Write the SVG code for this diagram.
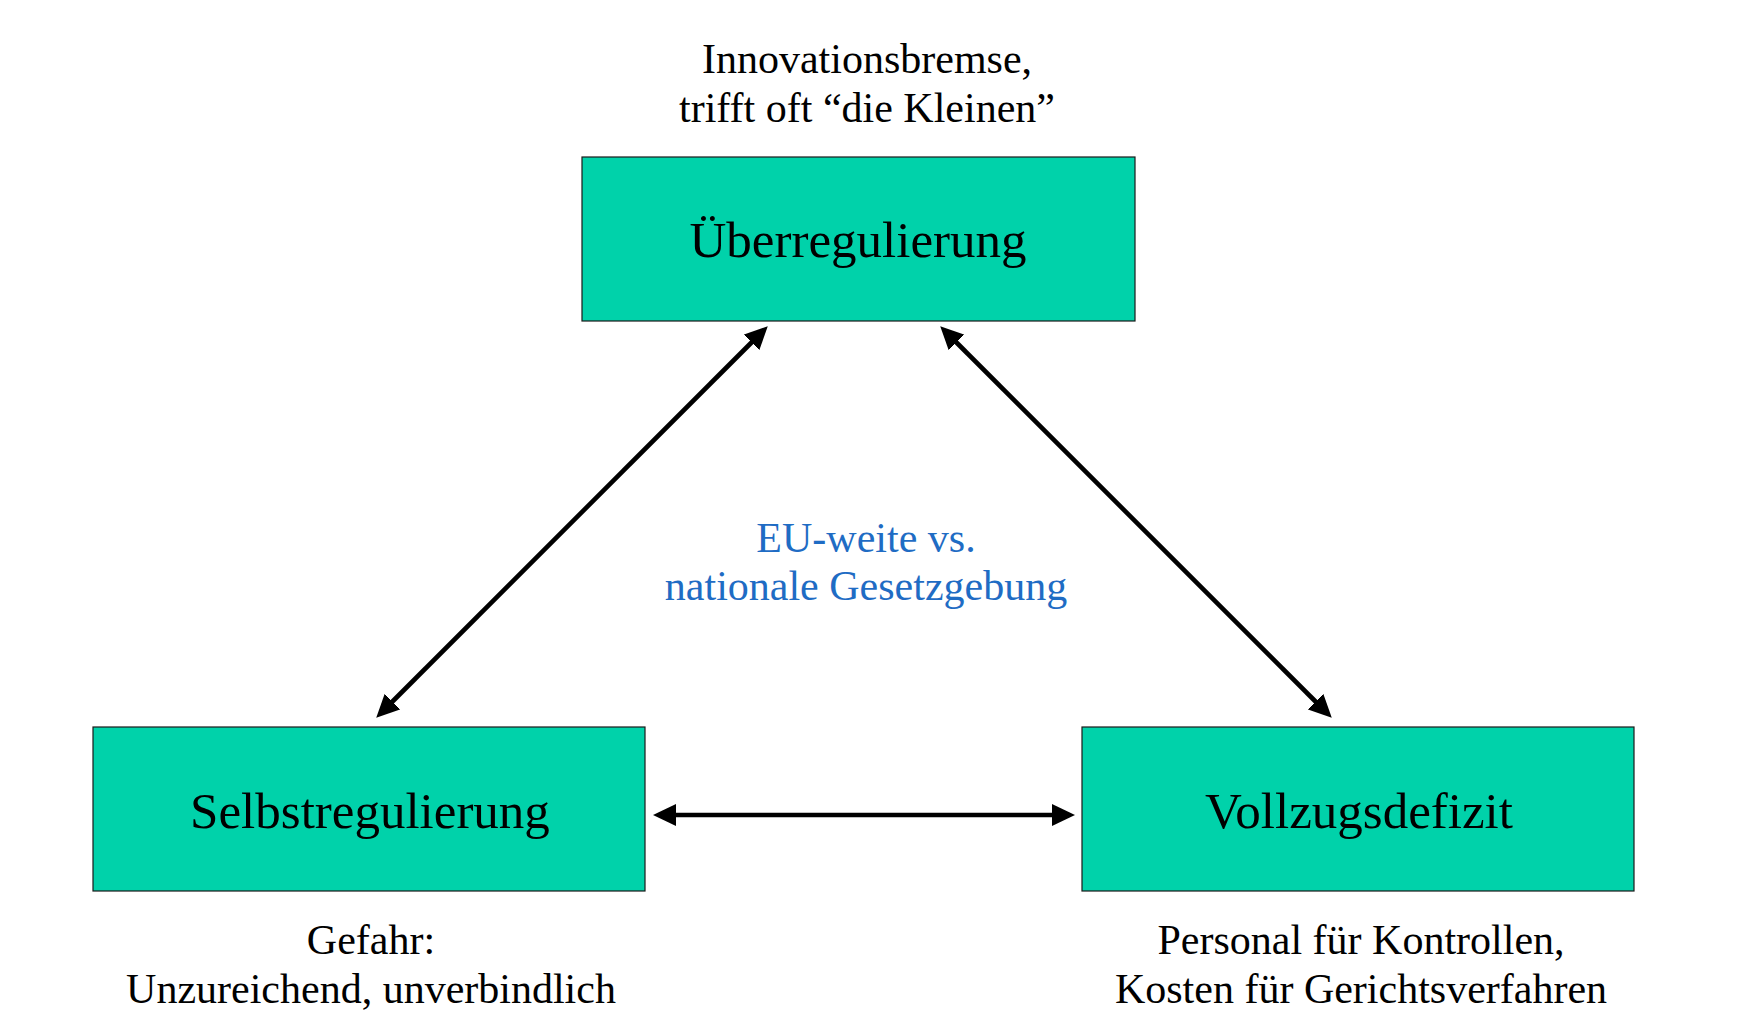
<svg xmlns="http://www.w3.org/2000/svg" width="1756" height="1034" viewBox="0 0 1756 1034">
<style>
.box{fill:#00D2AA;stroke:#1a1a1a;stroke-width:1.2}
.lbl{font-family:"Liberation Serif","Times New Roman",serif;font-size:51px;fill:#000;text-anchor:middle}
.note{font-family:"Liberation Serif","Times New Roman",serif;font-size:42px;fill:#000;text-anchor:middle}
.blue{fill:#1F6CC4}
.conn{stroke:#000;stroke-width:4.6;fill:none;marker-start:url(#ah);marker-end:url(#ah)}
</style>
<defs>
<marker id="ah" viewBox="0 0 23 22" markerWidth="23" markerHeight="22" refX="12" refY="11" markerUnits="userSpaceOnUse" orient="auto-start-reverse">
<path d="M0,0 L23,11 L0,22 z" fill="#000"/>
</marker>
</defs>
<rect width="1756" height="1034" fill="#fff"/>
<g id="connectors">
<line class="conn" x1="760" y1="334" x2="384" y2="710"/>
<line class="conn" x1="948" y1="334" x2="1324" y2="710"/>
<line class="conn" x1="664" y1="815" x2="1064" y2="815"/>
</g>
<g id="ueberregulierung">
<rect class="box" x="582" y="157" width="553" height="164"/>
<text class="lbl" x="858" y="257">Überregulierung</text>
</g>
<g id="selbstregulierung">
<rect class="box" x="93" y="727" width="552" height="164"/>
<text class="lbl" x="370" y="828">Selbstregulierung</text>
</g>
<g id="vollzugsdefizit">
<rect class="box" x="1082" y="727" width="552" height="164"/>
<text class="lbl" x="1359" y="828">Vollzugsdefizit</text>
</g>
<g id="note-top">
<text class="note" x="867" y="73">Innovationsbremse,</text>
<text class="note" x="867" y="122">trifft oft “die Kleinen”</text>
</g>
<g id="note-center">
<text class="note blue" x="866" y="552">EU-weite vs.</text>
<text class="note blue" x="866" y="600">nationale Gesetzgebung</text>
</g>
<g id="note-left">
<text class="note" x="371" y="954">Gefahr:</text>
<text class="note" x="371" y="1003">Unzureichend, unverbindlich</text>
</g>
<g id="note-right">
<text class="note" x="1361" y="954">Personal für Kontrollen,</text>
<text class="note" x="1361" y="1003">Kosten für Gerichtsverfahren</text>
</g>
</svg>
